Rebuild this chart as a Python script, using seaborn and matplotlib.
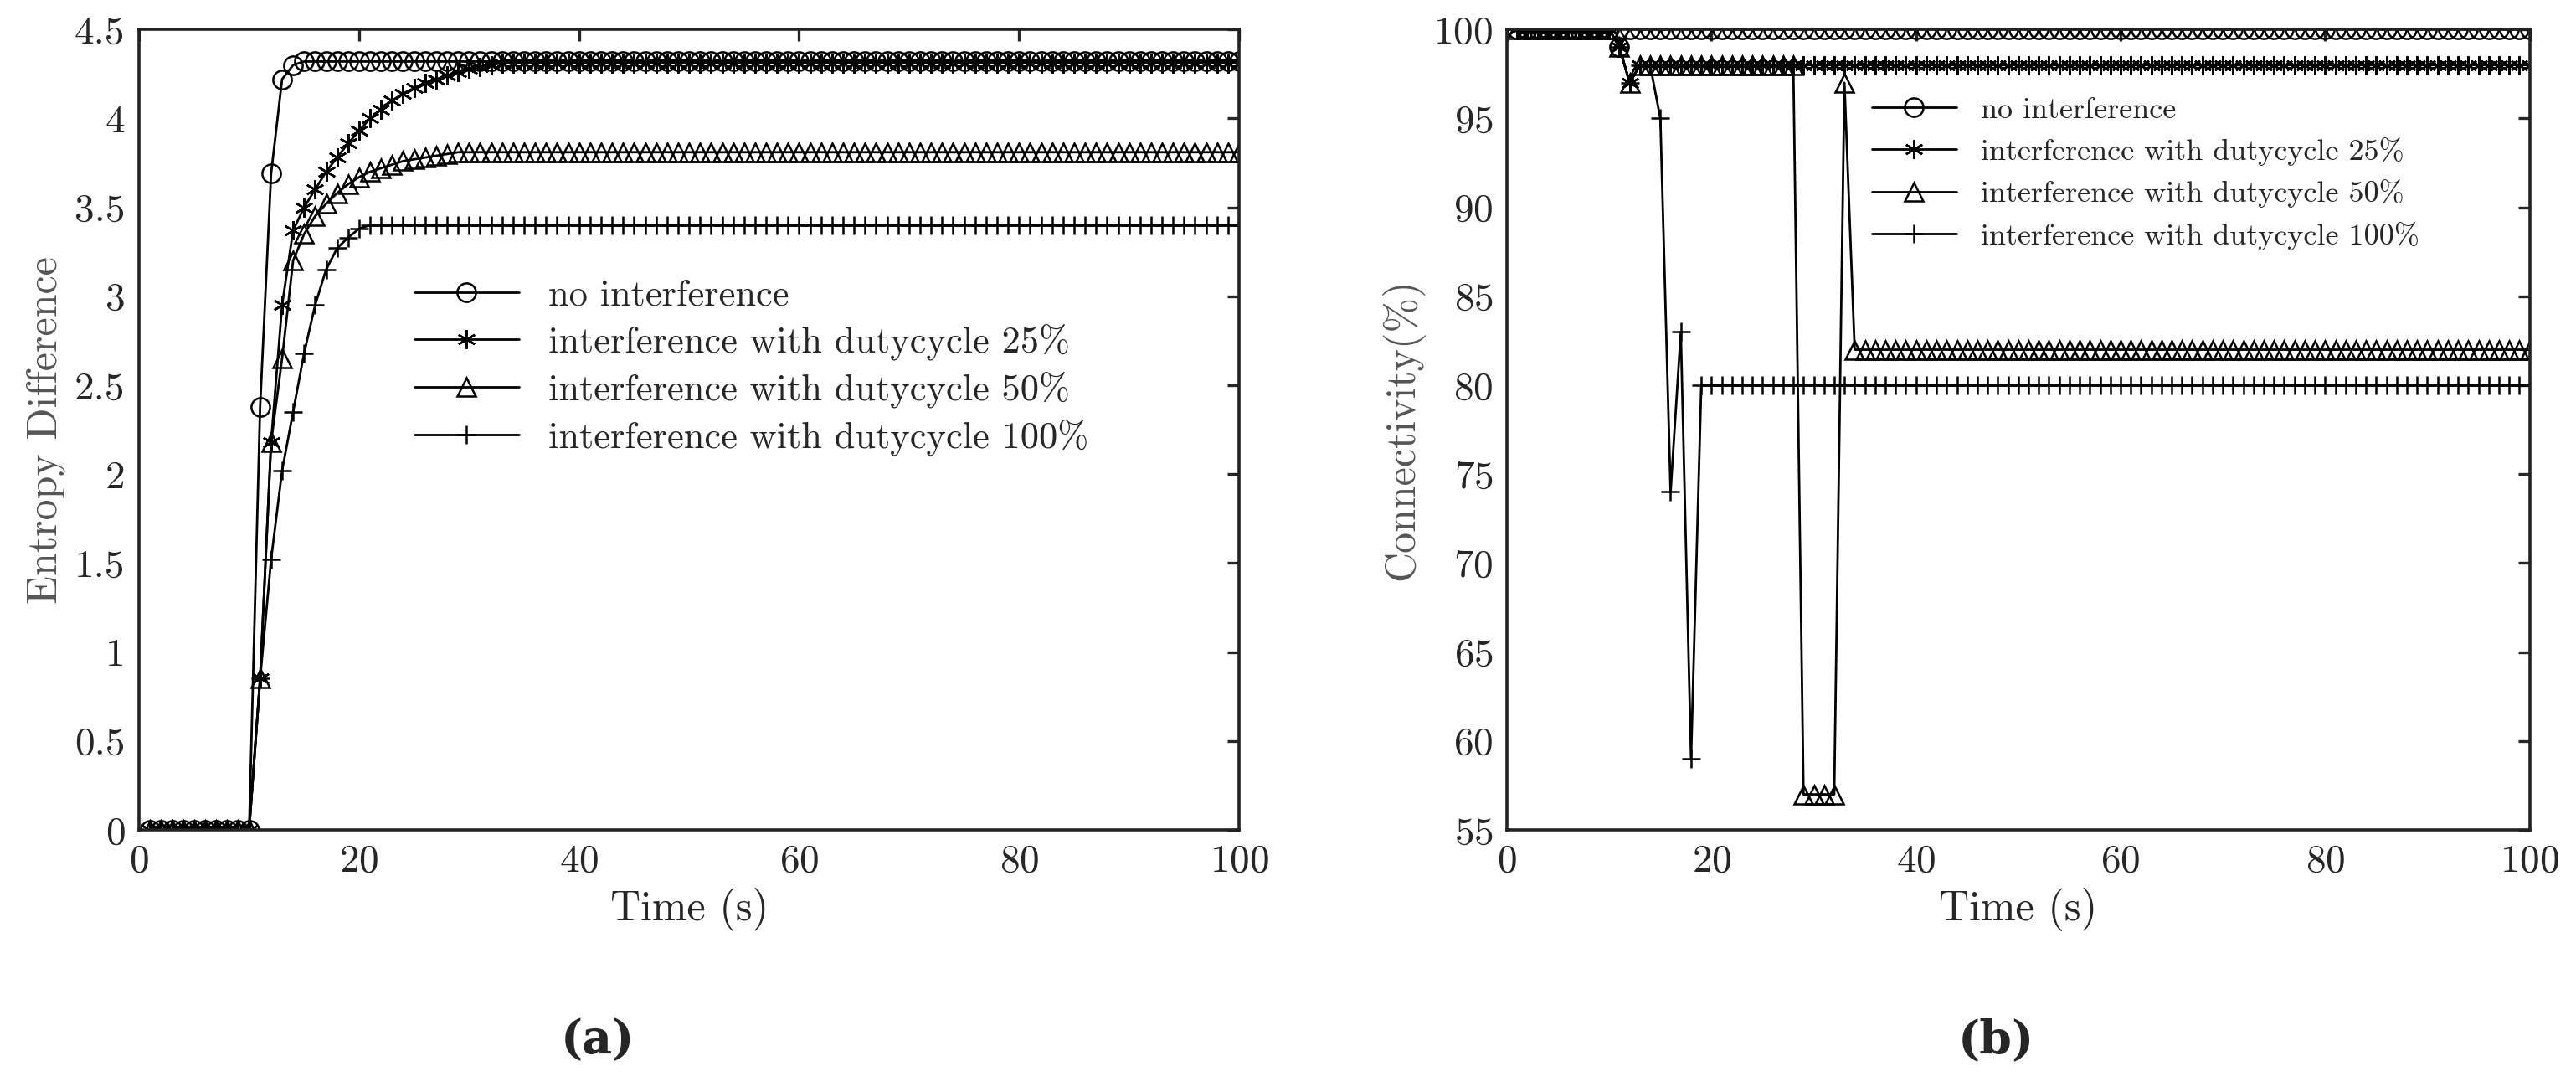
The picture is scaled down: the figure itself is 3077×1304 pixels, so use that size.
import numpy as np
import pandas as pd
import matplotlib
matplotlib.use("Agg")
import matplotlib.pyplot as plt
from matplotlib.ticker import FuncFormatter
import seaborn as sns

time = list(range(1, 101))

# entropy difference, panel (a)
ent_none = [0]*10 + [2.38, 3.69, 4.22, 4.30] + [4.32]*86
ent_25 = [0]*10 + [0.85, 2.18, 2.95, 3.37, 3.50, 3.60, 3.70, 3.78, 3.86, 3.93,
                   4.00, 4.05, 4.10, 4.14, 4.17, 4.20, 4.22, 4.24, 4.26, 4.28,
                   4.29, 4.30] + [4.31]*68
ent_50 = [0]*10 + [0.85, 2.18, 2.65, 3.20, 3.35, 3.45, 3.52, 3.58, 3.63, 3.67,
                   3.70, 3.72, 3.74, 3.76, 3.77, 3.78, 3.79, 3.80] + [3.81]*72
ent_100 = [0]*10 + [0.85, 1.52, 2.02, 2.35, 2.68, 2.95, 3.15, 3.27, 3.33, 3.38] + [3.40]*80

# connectivity, panel (b)
con_none = [100]*10 + [99] + [100]*89
con_25 = [100]*10 + [99, 97] + [98]*88
con_50 = [100]*10 + [99, 97] + [98]*16 + [57, 57, 57, 57, 97] + [82]*67
con_100 = [100]*10 + [99, 97, 98, 98, 95, 74, 83, 59] + [80]*82

labels = ["no interference", "interference with dutycycle 25%",
          "interference with dutycycle 50%", "interference with dutycycle 100%"]
markers = ["o", (6, 2, 0), "^", "+"]

sns.set_style("white")
plt.rcParams["font.family"] = ["cmr10", "DejaVu Serif"]
plt.rcParams["mathtext.fontset"] = "cm"
plt.rcParams["axes.formatter.use_mathtext"] = True

fig = plt.figure(figsize=(15.385, 6.52), dpi=200)
ax1 = fig.add_axes([0.054, 0.240, 0.427, 0.733])
ax2 = fig.add_axes([0.585, 0.240, 0.397, 0.733])


def draw(ax, series, ms):
    for vals, lab, mk in zip(series, labels, markers):
        df = pd.DataFrame({"t": time, "v": vals})
        sns.lineplot(data=df, x="t", y="v", ax=ax, color="black", lw=1.0,
                     marker=mk, markersize=ms,
                     markerfacecolor="none", markeredgecolor="black",
                     markeredgewidth=0.9, label=lab)
    ax.set_xlim(0, 100)
    ax.set_xticks(range(0, 101, 20))
    ax.tick_params(direction="in", top=True, right=True, length=5, width=1.2,
                   labelsize=17, pad=6)
    for s in ax.spines.values():
        s.set_linewidth(1.3)
        s.set_color("#222222")
    ax.set_xlabel("Time (s)", fontsize=18)


draw(ax1, [ent_none, ent_25, ent_50, ent_100], 8)
ax1.set_ylim(0, 4.5)
ax1.set_yticks(np.arange(0, 4.51, 0.5))
ax1.yaxis.set_major_formatter(FuncFormatter(lambda v, p: f"{v:g}"))
ax1.set_ylabel("Entropy Difference", fontsize=18, color="#555555")
ax1.legend(loc="upper left", bbox_to_anchor=(0.22, 0.73), frameon=False,
           fontsize=16, handlelength=2.8, labelspacing=0.3)

draw(ax2, [con_none, con_25, con_50, con_100], 8)
ax2.set_ylim(55, 100)
ax2.set_yticks(range(55, 101, 5))
ax2.set_ylabel("Connectivity(%)", fontsize=18, color="#555555")
ax2.legend(loc="upper left", bbox_to_anchor=(0.33, 0.95), frameon=False,
           fontsize=13, handlelength=2.8, labelspacing=0.45)

fig.text(0.232, 0.035, "(a)", fontsize=20, fontweight="bold",
         family="DejaVu Serif", ha="center")
fig.text(0.775, 0.035, "(b)", fontsize=20, fontweight="bold",
         family="DejaVu Serif", ha="center")

fig.savefig("out.png", dpi=200)
